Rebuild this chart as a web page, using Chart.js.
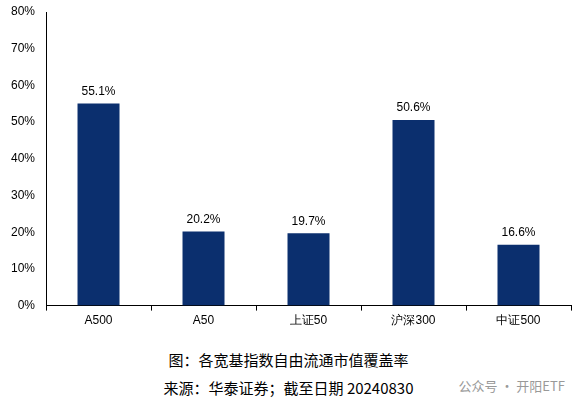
<!DOCTYPE html>
<html><head><meta charset="utf-8">
<script src="https://cdn.jsdelivr.net/npm/chart.js@4"></script>
<style>
body{margin:0;background:#fff;width:577px;height:403px;overflow:hidden;position:relative}
#wrap{position:absolute;left:0;top:0;width:577px;height:331px}
.cap{position:absolute;left:0;width:577px;text-align:center;font-family:"Noto Sans CJK SC",serif;font-size:15px;color:#000}
#wm{position:absolute;right:12px;top:376px;font-family:"Noto Sans CJK SC";font-size:13px;color:#999}
</style></head><body>
<div id="wrap"><canvas id="c"></canvas></div>
<div class="cap" style="top:349px">图：各宽基指数自由流通市值覆盖率</div>
<div class="cap" style="top:377px">来源：华泰证券；截至日期 20240830</div>
<div id="wm">公众号 · 开阳ETF</div>
<script>
const categories = ['A500', 'A50', '上证50', '沪深300', '中证500'];
const coverage = [55.1, 20.2, 19.7, 50.6, 16.6];

const labelPlugin = {
    id: 'labels',
    afterDatasetsDraw(chart) {
        const ctx = chart.ctx;
        ctx.save();
        ctx.font = '12px "Liberation Sans", Arial';
        ctx.fillStyle = '#000';
        ctx.textAlign = 'center';
        ctx.textBaseline = 'bottom';
        chart.getDatasetMeta(0).data.forEach((bar, i) => {
            ctx.fillText(coverage[i].toFixed(1) + '%', bar.x, bar.y - 6);
        });
        ctx.restore();
    },
};

new Chart(document.getElementById('c'), {
    type: 'bar',
    data: {
        labels: categories,
        datasets: [{ data: coverage, backgroundColor: '#0b2f6e', barPercentage: 0.4, categoryPercentage: 1 }],
    },
    options: {
        responsive: true,
        maintainAspectRatio: false,
        animation: false,
        layout: { padding: { left: 8, right: 6, top: 12 } },
        plugins: { legend: { display: false }, tooltip: { enabled: false } },
        scales: {
            y: {
                min: 0, max: 80,
                ticks: { stepSize: 10, callback: v => v + '%', color: '#000', font: { family: '"Liberation Sans", Arial', size: 12 } },
                grid: { display: false, drawTicks: true },
                border: { color: '#000' },
            },
            x: {
                ticks: { color: '#000', font: { family: '"Liberation Sans", Arial', size: 12 } },
                grid: { display: true, drawOnChartArea: false, offset: true, color: '#000', tickLength: 5 },
                border: { color: '#000' },
            },
        },
    },
    plugins: [labelPlugin],
});
</script>
</body></html>
